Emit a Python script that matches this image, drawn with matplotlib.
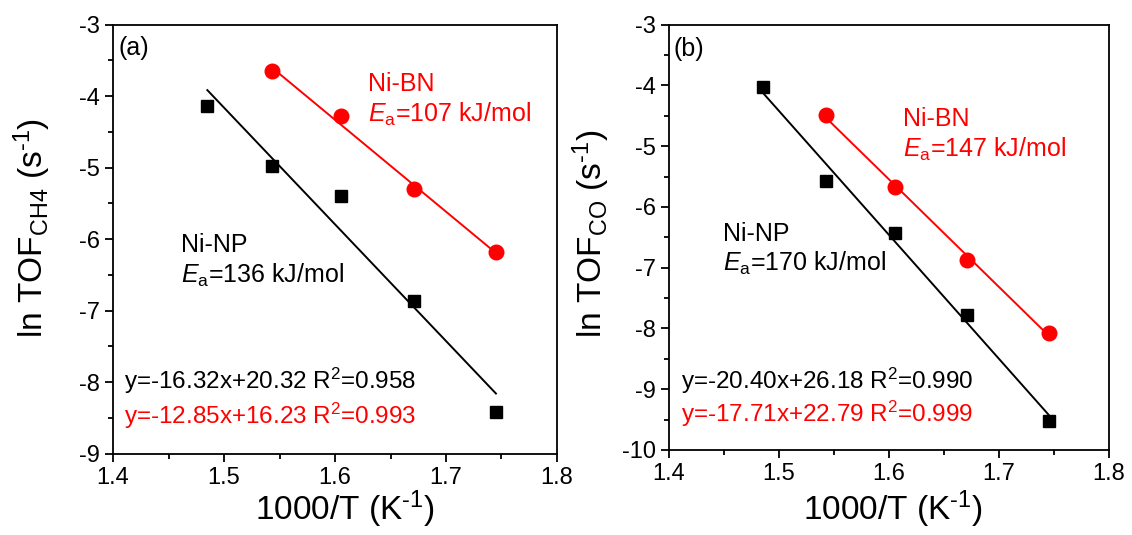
import numpy as np
import matplotlib
matplotlib.use("Agg")
import matplotlib.pyplot as plt
from matplotlib.ticker import MultipleLocator

plt.rcParams['font.family'] = ['Liberation Sans', 'DejaVu Sans']
plt.rcParams['mathtext.fontset'] = 'custom'
plt.rcParams['mathtext.rm'] = 'Liberation Sans'
plt.rcParams['mathtext.it'] = 'Liberation Sans:italic'
plt.rcParams['axes.unicode_minus'] = False

# 1000/T values (K^-1)
x_np = [1.485, 1.543, 1.605, 1.671, 1.745]
x_bn = [1.543, 1.605, 1.671, 1.745]

# ln TOF for CH4 and CO
ch4_np = [-4.14, -4.97, -5.40, -6.87, -8.42]
ch4_bn = [-3.65, -4.28, -5.30, -6.18]
co_np = [-4.03, -5.57, -6.43, -7.78, -9.52]
co_bn = [-4.49, -5.67, -6.87, -8.07]

# linear fits: slope, intercept, R^2
fit_ch4_np = (-16.32, 20.32, 0.958)
fit_ch4_bn = (-12.85, 16.23, 0.993)
fit_co_np = (-20.40, 26.18, 0.990)
fit_co_bn = (-17.71, 22.79, 0.999)

# activation energies (kJ/mol)
ea_ch4 = {'Ni-NP': 136, 'Ni-BN': 107}
ea_co = {'Ni-NP': 170, 'Ni-BN': 147}

RED = '#ff0000'
W, H = 1132, 535

fig = plt.figure(figsize=(W / 100, H / 100), dpi=100)
ax1 = fig.add_axes([113 / W, 1 - 453.7 / H, 444 / W, 429 / H])
ax2 = fig.add_axes([669 / W, 1 - 450 / H, 440 / W, 425.3 / H])


def fit_line(ax, xs, fit, color):
    xx = np.array([min(xs), max(xs)])
    ax.plot(xx, fit[0] * xx + fit[1], color=color, lw=1.4, zorder=2)


def eq_text(fit):
    return 'y=%.2fx+%.2f R$^2$=%.3f' % (fit[0], fit[1], fit[2])


def style_axis(ax, ylim, ymajor):
    ax.set_xlim(1.4, 1.8)
    ax.set_ylim(*ylim)
    ax.xaxis.set_major_locator(MultipleLocator(0.1))
    ax.xaxis.set_minor_locator(MultipleLocator(0.05))
    ax.yaxis.set_major_locator(MultipleLocator(ymajor))
    ax.yaxis.set_minor_locator(MultipleLocator(ymajor / 2))
    ax.xaxis.set_major_formatter(plt.FuncFormatter(lambda v, p: '%.1f' % v))
    ax.yaxis.set_major_formatter(plt.FuncFormatter(lambda v, p: '%d' % round(v)))
    ax.tick_params(which='both', direction='out', top=False, right=False,
                   labelsize=17, width=1.3)
    ax.tick_params(which='major', length=6)
    ax.tick_params(which='minor', length=3.5)
    for sp in ax.spines.values():
        sp.set_linewidth(1.3)


EQ_FS = 17.5
ANN_FS = 18

# (a) CH4
fit_line(ax1, x_np, fit_ch4_np, 'black')
fit_line(ax1, x_bn, fit_ch4_bn, RED)
ax1.plot(x_np, ch4_np, 's', color='black', ms=9, zorder=3)
ax1.plot(x_bn, ch4_bn, 'o', color=RED, ms=10.5, zorder=3)
style_axis(ax1, (-9, -3), 1)

ax1.text(1.405, -3.33, '(a)', fontsize=18, va='center')
ax1.text(1.630, -3.934, 'Ni-BN', fontsize=ANN_FS, color=RED)
ax1.text(1.630, -4.36, '$E_\\mathrm{a}$=%d kJ/mol' % ea_ch4['Ni-BN'], fontsize=ANN_FS, color=RED)
ax1.text(1.461, -6.185, 'Ni-NP', fontsize=ANN_FS)
ax1.text(1.461, -6.604, '$E_\\mathrm{a}$=%d kJ/mol' % ea_ch4['Ni-NP'], fontsize=ANN_FS)
ax1.text(1.410, -8.09, eq_text(fit_ch4_np), fontsize=EQ_FS)
ax1.text(1.410, -8.58, eq_text(fit_ch4_bn), fontsize=EQ_FS, color=RED)

# (b) CO
fit_line(ax2, x_np, fit_co_np, 'black')
fit_line(ax2, x_bn, fit_co_bn, RED)
ax2.plot(x_np, co_np, 's', color='black', ms=9, zorder=3)
ax2.plot(x_bn, co_bn, 'o', color=RED, ms=10.5, zorder=3)
style_axis(ax2, (-10, -3), 1)

ax2.text(1.4045, -3.408, '(b)', fontsize=18, va='center')
ax2.text(1.613, -4.667, 'Ni-BN', fontsize=ANN_FS, color=RED)
ax2.text(1.613, -5.177, '$E_\\mathrm{a}$=%d kJ/mol' % ea_co['Ni-BN'], fontsize=ANN_FS, color=RED)
ax2.text(1.449, -6.553, 'Ni-NP', fontsize=ANN_FS)
ax2.text(1.449, -7.053, '$E_\\mathrm{a}$=%d kJ/mol' % ea_co['Ni-NP'], fontsize=ANN_FS)
ax2.text(1.411, -8.996, eq_text(fit_co_np), fontsize=EQ_FS)
ax2.text(1.411, -9.53, eq_text(fit_co_bn), fontsize=EQ_FS, color=RED)

# axis titles
for xc in (344.5, 892.7):
    fig.text(xc / W, 1 - 520 / H, '1000/T (K$^{\\text{-}1}$)', fontsize=24,
             ha='center', va='baseline')
fig.text(42.7 / W, 1 - 228 / H, 'ln TOF$_\\mathrm{CH4}$ (s$^{\\text{-}1}$)', fontsize=24,
         rotation=90, rotation_mode='anchor', ha='center', va='baseline')
fig.text(602 / W, 1 - 233.5 / H, 'ln TOF$_\\mathrm{CO}$ (s$^{\\text{-}1}$)', fontsize=24,
         rotation=90, rotation_mode='anchor', ha='center', va='baseline')

fig.savefig('out.png', dpi=100)
